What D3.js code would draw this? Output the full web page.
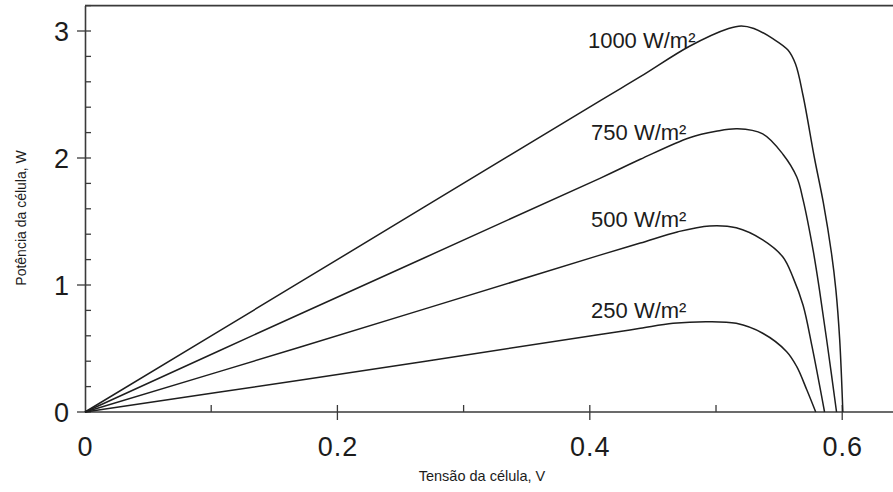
<!DOCTYPE html>
<html>
<head>
<meta charset="utf-8">
<script src="https://cdn.jsdelivr.net/npm/d3@7"></script>
<style>
  html, body { margin: 0; padding: 0; background: #fff; }
  svg { display: block; }
</style>
</head>
<body>
<svg id="chart" width="893" height="492"></svg>
<script>
// Power vs. voltage of a solar cell at four irradiance levels
const irradianceLabels = ["1000 W/m²", "750 W/m²", "500 W/m²", "250 W/m²"];

const volts1000 = [0, 0.170, 0.408, 0.440, 0.479, 0.510, 0.520, 0.530, 0.545, 0.557, 0.563, 0.569, 0.578, 0.585, 0.5915, 0.595, 0.598, 0.6005];
const power1000 = [0, 1.02, 2.45, 2.64, 2.88, 3.02, 3.04, 3.02, 2.94, 2.85, 2.74, 2.49, 2.00, 1.65, 1.25, 0.96, 0.57, 0];

const volts750 = [0, 0.170, 0.408, 0.440, 0.479, 0.500, 0.517, 0.537, 0.553, 0.564, 0.569, 0.577, 0.582, 0.5885, 0.5955];
const power750 = [0, 0.77, 1.84, 1.99, 2.16, 2.21, 2.23, 2.19, 2.03, 1.85, 1.67, 1.27, 0.96, 0.51, 0];

const volts500 = [0, 0.170, 0.408, 0.440, 0.470, 0.495, 0.516, 0.537, 0.553, 0.561, 0.569, 0.576, 0.586];
const power500 = [0, 0.51, 1.235, 1.33, 1.42, 1.465, 1.45, 1.355, 1.22, 1.06, 0.84, 0.52, 0];

const volts250 = [0, 0.170, 0.408, 0.440, 0.466, 0.493, 0.516, 0.537, 0.556, 0.564, 0.572, 0.579];
const power250 = [0, 0.25, 0.61, 0.659, 0.698, 0.711, 0.698, 0.62, 0.475, 0.357, 0.173, 0];

const xTickValues = [0, 0.2, 0.4, 0.6];
const xTickLabels = ["0", "0.2", "0.4", "0.6"];
const yTickValues = [0, 1, 2, 3];
const yTickLabels = ["0", "1", "2", "3"];

const xTitle = "Tensão da célula, V";
const yTitle = "Potência da célula, W";

const series = [
  { label: irradianceLabels[0], v: volts1000, p: power1000 },
  { label: irradianceLabels[1], v: volts750, p: power750 },
  { label: irradianceLabels[2], v: volts500, p: power500 },
  { label: irradianceLabels[3], v: volts250, p: power250 }
];

// label anchors in data units (left edge, baseline)
const labelAnchors = [[0.3985, 2.87], [0.401, 2.145], [0.401, 1.46], [0.401, 0.74]];

const svg = d3.select("#chart");
const axisColor = "#3a3a3a";
const inkColor = "#1c1c1c";
const font = "Liberation Sans, Arial, sans-serif";

const x = d3.scaleLinear().domain([0, 0.64]).range([85, 892.7]);
const y = d3.scaleLinear().domain([0, 3.2]).range([412, 5.6]);

const g = svg.append("g");

// top border
g.append("line").attr("x1", x(0)).attr("x2", 893).attr("y1", y(3.2)).attr("y2", y(3.2))
  .attr("stroke", axisColor).attr("stroke-width", 1.6);

// y axis: labels from the axis generator, ticks drawn separately
const yAxis = d3.axisLeft(y).tickValues(yTickValues).tickSize(0)
  .tickFormat((d, i) => yTickLabels[i]).tickPadding(16);
const yg = g.append("g").attr("transform", `translate(${x(0)},0)`).call(yAxis);
yg.select(".domain").attr("stroke", axisColor).attr("stroke-width", 1.6);
yg.selectAll(".tick text").attr("font-family", font)
  .attr("font-size", 27).attr("fill", inkColor).attr("dy", "0.36em");

const yMinor = d3.range(0, 3.2001, 0.2);
g.append("g").selectAll("line").data(yMinor).join("line")
  .attr("x1", d => yTickValues.some(t => Math.abs(t - d) < 1e-6) ? x(0) - 8 : x(0))
  .attr("x2", x(0) + 6)
  .attr("y1", d => y(d)).attr("y2", d => y(d))
  .attr("stroke", axisColor).attr("stroke-width", 1.3);

// x axis
const xAxis = d3.axisBottom(x).tickValues(xTickValues).tickSize(0)
  .tickFormat((d, i) => xTickLabels[i]).tickPadding(25);
const xg = g.append("g").attr("transform", `translate(0,${y(0)})`).call(xAxis);
xg.select(".domain").attr("stroke", axisColor).attr("stroke-width", 1.6)
  .attr("d", `M${x(0)},0H893`);
xg.selectAll(".tick text").attr("font-family", font)
  .attr("font-size", 27).attr("fill", inkColor).attr("letter-spacing", 1);

const xMinor = d3.range(0.1, 0.6401, 0.1);
g.append("g").selectAll("line").data(xMinor).join("line")
  .attr("x1", d => x(d)).attr("x2", d => x(d))
  .attr("y1", y(0) - 7)
  .attr("y2", d => xTickValues.some(t => Math.abs(t - d) < 1e-6) ? y(0) + 8 : y(0))
  .attr("stroke", axisColor).attr("stroke-width", 1.3);

// axis titles
svg.append("text").attr("x", 482).attr("y", 481).attr("text-anchor", "middle")
  .attr("font-family", font).attr("font-size", 14.5)
  .attr("fill", inkColor).text(xTitle);
svg.append("text").attr("transform", "translate(26,218) rotate(-90)").attr("text-anchor", "middle")
  .attr("font-family", font).attr("font-size", 14)
  .attr("fill", inkColor).text(yTitle);

// power curves
const line = d3.line().x(d => x(d[0])).y(d => y(d[1])).curve(d3.curveCatmullRom.alpha(0.5));
svg.append("g").selectAll("path").data(series).join("path")
  .attr("d", s => line(s.v.map((v, i) => [v, s.p[i]])))
  .attr("fill", "none").attr("stroke", "#1e1e1e").attr("stroke-width", 1.5)
  .attr("stroke-linejoin", "round");

// irradiance labels
svg.append("g").selectAll("text").data(series).join("text")
  .attr("x", (s, i) => x(labelAnchors[i][0])).attr("y", (s, i) => y(labelAnchors[i][1]))
  .attr("font-family", font).attr("font-size", 22)
  .attr("fill", inkColor).text(s => s.label);
</script>
</body>
</html>
